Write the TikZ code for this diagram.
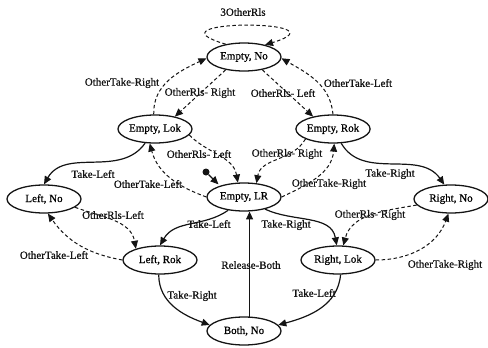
\documentclass[tikz,border=0pt]{standalone}
\usepackage{fontspec}
\setmainfont{Liberation Serif}
\newfontfamily\heavyrm[FakeBold=0.7]{Liberation Serif}
\usepackage{tikz}
\usetikzlibrary{arrows.meta,shapes,calc}
\usepackage{xcolor}
\definecolor{InkK}{RGB}{20,20,20}

\begin{document}
\begin{tikzpicture}[x=1pt,y=1pt,
    state/.style={ellipse,draw=InkK,line width=1.3pt,minimum width=74pt,
      minimum height=28pt,inner sep=0pt,font=\heavyrm\fontsize{11}{13}\selectfont},
    sline/.style={-{Triangle[length=8pt,width=7pt]},InkK,line width=1.2pt},
    dline/.style={sline,dash pattern=on 3.5pt off 2.5pt,line width=1pt},
    lbl/.style={font=\heavyrm\fontsize{11}{13}\selectfont,inner sep=0pt,text=InkK},
    initdot/.style={circle,fill=InkK,minimum size=7pt,inner sep=0pt}]
  \useasboundingbox (0,0) rectangle (488,-348);
  % states
  \node[state] (eno)  at (244,-57)  {Empty, No};
  \node[state] (elok) at (155,-129) {Empty, Lok};
  \node[state] (erok) at (333,-129) {Empty, Rok};
  \node[state] (lno)  at (44,-199)  {Left, No};
  \node[state] (elr)  at (244,-197) {Empty, LR};
  \node[state] (rno)  at (451,-199) {Right, No};
  \node[state] (lrok) at (160,-260) {Left, Rok};
  \node[state] (rlok) at (338,-260) {Right, Lok};
  \node[state] (bno)  at (244,-331) {Both, No};
  \node[initdot] (init) at (206,-172) {};
  % transitions
  \draw[dline] (eno.145) .. controls (140,-19) and (350,-19) .. (eno.30);
  \draw[dline] (elok.95) to[out=92,in=205] (eno.182);
  \draw[dline] (eno.215) -- (elok.32);
  \draw[dline] (eno.-35) -- (erok.148);
  \draw[dline] (erok.north) to[out=95,in=-30] (eno.-2);
  \draw[sline] (elok.235) to[out=-125,in=60] (lno.north);
  \draw[dline] (elok.-10) to[out=-45,in=100] (elr.113);
  \draw[dline] (elr.west) to[out=160,in=-75] (elok.250);
  \draw[dline] (erok.200) to[out=-120,in=80] (elr.48);
  \draw[dline] (elr.east) to[out=25,in=-95] (erok.-85);
  \draw[sline] (erok.-60) to[out=-60,in=125] (rno.115);
  \draw[dline] (lno.-15) to[out=-20,in=100] (lrok.155);
  \draw[dline] (lrok.west) to[out=170,in=-55] (lno.-75);
  \draw[sline] (elr.220) to[out=-145,in=60] (lrok.north);
  \draw[sline] (elr.-30) to[out=-25,in=100] (rlok.95);
  \draw[dline] (rno.190) to[out=190,in=75] (rlok.70);
  \draw[dline] (rlok.east) to[out=0,in=-110] (rno.-100);
  \draw[sline] (bno.69) -- (elr.-69);
  \draw[sline] (lrok.-95) to[out=-90,in=160] (bno.170);
  \draw[sline] (rlok.-80) to[out=-95,in=15] (bno.10);
  \draw[sline,shorten >=2pt] (init) -- (elr.155);
  % labels
  \foreach \x/\y/\t [count=\i] in {243/12/3OtherRls,
      122/83/OtherTake-Right, 200/93/OtherRls- Right, 283/93/OtherRls- Left,
      358/83/OtherTake-Left, 93/174/Take-Left, 199/154/OtherRls- Left,
      287/154/OtherRls- Right, 390/174/Take-Right, 148/184/OtherTake-Left,
      329/184/OtherTake-Right, 113/215/OtherRls-Left, 209/224/Take-Left,
      286/225/Take-Right, 370/215/OtherRls- Right, 54/255/OtherTake-Left,
      251/265/Release-Both, 445/265/OtherTake-Right, 192/296/Take-Right,
      314/293/Take-Left}{
    \node[lbl] (lab\i) at (\x,-\y) {\t};}
\end{tikzpicture}
\end{document}
